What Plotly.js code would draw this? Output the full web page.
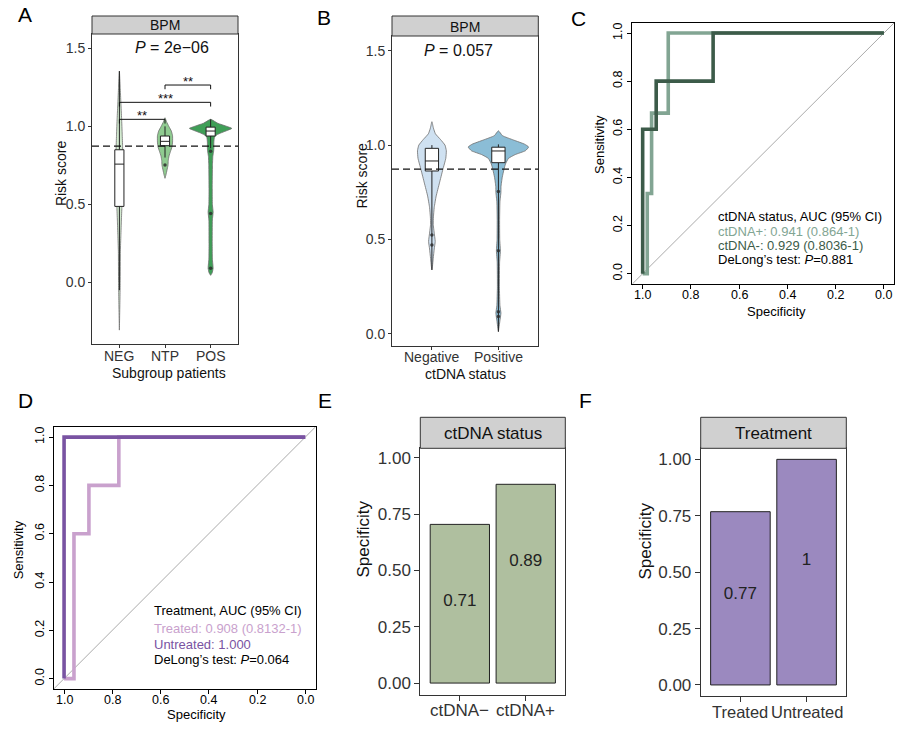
<!DOCTYPE html>
<html><head><meta charset="utf-8">
<script src="https://cdn.plot.ly/plotly-3.0.1.min.js"></script>
<style>body{margin:0;background:#fff}#chart{width:910px;height:745px}</style>
</head><body><div id="chart"></div>
<script>
// ================= DATA =================
// Panel A : risk score by subgroup (BPM)
const groupsA = ['NEG', 'NTP', 'POS'];
const violinA_NEG_y = [1.354, 1.25, 1.15, 1.05, 0.95, 0.87, 0.75, 0.60, 0.48, 0.40, 0.30, 0.20, 0.00, -0.10, -0.306];
const violinA_NEG_w = [0, 0.018, 0.033, 0.049, 0.062, 0.071, 0.077, 0.066, 0.055, 0.044, 0.033, 0.022, 0.018, 0.013, 0];
const violinA_NTP_y = [1.055, 1.03, 1.00, 0.97, 0.94, 0.90, 0.87, 0.84, 0.81, 0.78, 0.75, 0.72, 0.69, 0.667];
const violinA_NTP_w = [0, 0.033, 0.084, 0.139, 0.166, 0.166, 0.155, 0.121, 0.088, 0.071, 0.066, 0.044, 0.022, 0];
const violinA_POS_y = [1.045, 1.02, 1.00, 0.987, 0.975, 0.96, 0.945, 0.93, 0.90, 0.86, 0.84, 0.81, 0.75, 0.60, 0.50, 0.45, 0.40, 0.25, 0.15, 0.09, 0.06, 0.045];
const violinA_POS_w = [0, 0.155, 0.353, 0.464, 0.375, 0.243, 0.132, 0.084, 0.071, 0.071, 0.066, 0.049, 0.040, 0.035, 0.038, 0.055, 0.038, 0.035, 0.038, 0.055, 0.033, 0];
const boxA_q1 = [0.487, 0.876, 0.938];
const boxA_median = [0.758, 0.904, 0.970];
const boxA_q3 = [0.850, 0.938, 0.995];
const boxA_lower = [-0.05, 0.80, 0.86];
const boxA_upper = [1.354, 1.00, 1.045];
const outA_group = ['NTP', 'POS', 'POS', 'POS'];
const outA_y = [0.752, 0.84, 0.442, 0.09];
const compA = [['NEG', 'NTP', '**'], ['NEG', 'POS', '***'], ['NTP', 'POS', '**']];
const pValueA = '2e\u221206';

// Panel B : risk score by ctDNA status
const groupsB = ['Negative', 'Positive'];
const violinB_Neg_y = [1.124, 1.09, 1.06, 1.03, 1.00, 0.97, 0.93, 0.87, 0.80, 0.73, 0.67, 0.62, 0.58, 0.54, 0.49, 0.45, 0.40, 0.36, 0.339];
const violinB_Neg_w = [0, 0.023, 0.053, 0.129, 0.197, 0.217, 0.209, 0.164, 0.114, 0.064, 0.035, 0.023, 0.020, 0.033, 0.050, 0.035, 0.020, 0.009, 0];
const violinB_Pos_y = [1.076, 1.05, 1.027, 1.005, 0.99, 0.97, 0.95, 0.93, 0.90, 0.87, 0.83, 0.78, 0.75, 0.70, 0.60, 0.50, 0.44, 0.38, 0.25, 0.15, 0.11, 0.07, 0.012];
const violinB_Pos_w = [0, 0.061, 0.227, 0.394, 0.455, 0.405, 0.253, 0.152, 0.106, 0.083, 0.058, 0.039, 0.038, 0.023, 0.018, 0.020, 0.030, 0.018, 0.015, 0.023, 0.038, 0.023, 0];
const boxB_q1 = [0.863, 0.907];
const boxB_median = [0.916, 0.969];
const boxB_q3 = [0.983, 0.989];
const boxB_lower = [0.339, 0.012];
const boxB_upper = [1.0, 1.004];
const outB_group = ['Negative', 'Negative', 'Positive', 'Positive', 'Positive', 'Positive'];
const outB_y = [0.524, 0.471, 0.754, 0.441, 0.118, 0.092];
const pValueB = '0.057';
const riskCutoff = 0.873;

// Panel C : ROC by ctDNA status
const rocC_pos_spec = [1.000, 0.981, 0.981, 0.963, 0.963, 0.894, 0.894, 0.000];
const rocC_pos_sens = [0, 0, 0.333, 0.333, 0.667, 0.667, 1, 1];
const rocC_neg_spec = [1.000, 1.000, 0.944, 0.944, 0.708, 0.708, 0.000];
const rocC_neg_sens = [0, 0.6, 0.6, 0.8, 0.8, 1, 1];
const legendC = ['ctDNA status, AUC (95% CI)', 'ctDNA+: 0.941 (0.864-1)', 'ctDNA-: 0.929 (0.8036-1)', 'DeLong\u2019s test: <i>P</i>=0.881'];

// Panel D : ROC by treatment
const rocD_tr_spec = [1.000, 0.959, 0.959, 0.897, 0.897, 0.773, 0.773, 0.000];
const rocD_tr_sens = [0, 0, 0.6, 0.6, 0.8, 0.8, 1, 1];
const rocD_un_spec = [1.000, 1.000, 0.000];
const rocD_un_sens = [0, 1, 1];
const legendD = ['Treatment, AUC (95% CI)', 'Treated: 0.908 (0.8132-1)', 'Untreated: 1.000', 'DeLong\u2019s test: <i>P</i>=0.064'];

// Panel E / F : specificity bars
const catsE = ['ctDNA\u2212', 'ctDNA+'];
const specE = [0.705, 0.883];
const labelsE = ['0.71', '0.89'];
const catsF = ['Treated', 'Untreated'];
const specF = [0.768, 1.0];
const labelsF = ['0.77', '1'];
const rocTicks = [1, 0.8, 0.6, 0.4, 0.2, 0];
const barTicks = [0, 0.25, 0.5, 0.75, 1];

// ================= STYLE / LAYOUT =================
const FONT = 'Liberation Sans, Arial, Helvetica, sans-serif';
const W = 910, H = 745;
const colNEG = '#d3ebd0', colNTP = '#8fcb90', colPOS = '#3f9f57';
const colNeg = '#cfe1f1', colPos = '#8bbdd6';
const colCpos = '#82a593', colCneg = '#3c5b49';
const colDtr = '#c9a1cd', colDun = '#7953a2';
const colE = '#afbf9f', colF = '#9b89bf';

const pos = (cats) => (c) => cats.indexOf(c) + 1;

function violin(xa, ya, center, ys, ws, fill) {
  const right = ys.map((y, i) => center + ws[i]);
  const left = ys.map((y, i) => center - ws[i]).reverse();
  return {type: 'scatter', xaxis: xa, yaxis: ya, mode: 'lines', fill: 'toself', fillcolor: fill,
    x: right.concat(left), y: ys.concat(ys.slice().reverse()),
    line: {color: '#6e6e6e', width: 0.8, shape: 'spline', smoothing: 0.4}, hoverinfo: 'skip'};
}
// boxplot drawn with scatter traces so it sits above the violins
function boxes(xa, ya, q1, med, q3, lo, hi) {
  const out = [], hw = 0.1, ln = {color: '#222', width: 1};
  q1.forEach((_, i) => {
    const c = i + 1;
    out.push({type: 'scatter', mode: 'lines', xaxis: xa, yaxis: ya, x: [c, c, null, c, c], y: [q3[i], hi[i], null, q1[i], lo[i]],
      line: ln, hoverinfo: 'skip'});
    out.push({type: 'scatter', mode: 'lines', xaxis: xa, yaxis: ya, fill: 'toself', fillcolor: '#ffffff',
      x: [c - hw, c + hw, c + hw, c - hw, c - hw], y: [q1[i], q1[i], q3[i], q3[i], q1[i]], line: ln, hoverinfo: 'skip'});
    out.push({type: 'scatter', mode: 'lines', xaxis: xa, yaxis: ya, x: [c - hw, c + hw], y: [med[i], med[i]],
      line: ln, hoverinfo: 'skip'});
  });
  return out;
}
function dots(xa, ya, xs, ys) {
  return {type: 'scatter', mode: 'markers', xaxis: xa, yaxis: ya, x: xs, y: ys,
    marker: {size: 3.5, color: '#2e2e2e', opacity: 0.85}, hoverinfo: 'skip'};
}
function roc(xa, ya, sp, se, color) {
  return {type: 'scatter', mode: 'lines', xaxis: xa, yaxis: ya, x: sp, y: se,
    line: {color: color, width: 3.6}, hoverinfo: 'skip'};
}

const pA = pos(groupsA), pB = pos(groupsB), pE = pos(catsE), pF = pos(catsF);
const traces = [].concat(
  [violin('x', 'y', 1, violinA_NEG_y, violinA_NEG_w, colNEG),
   violin('x', 'y', 2, violinA_NTP_y, violinA_NTP_w, colNTP),
   violin('x', 'y', 3, violinA_POS_y, violinA_POS_w, colPOS)],
  boxes('x', 'y', boxA_q1, boxA_median, boxA_q3, boxA_lower, boxA_upper),
  [dots('x', 'y', outA_group.map(pA), outA_y),
   violin('x2', 'y2', 1, violinB_Neg_y, violinB_Neg_w, colNeg),
   violin('x2', 'y2', 2, violinB_Pos_y, violinB_Pos_w, colPos)],
  boxes('x2', 'y2', boxB_q1, boxB_median, boxB_q3, boxB_lower, boxB_upper),
  [dots('x2', 'y2', outB_group.map(pB), outB_y),
   roc('x3', 'y3', rocC_pos_spec, rocC_pos_sens, colCpos),
   roc('x3', 'y3', rocC_neg_spec, rocC_neg_sens, colCneg),
   roc('x4', 'y4', rocD_tr_spec, rocD_tr_sens, colDtr),
   roc('x4', 'y4', rocD_un_spec, rocD_un_sens, colDun),
   {type: 'bar', xaxis: 'x5', yaxis: 'y5', x: catsE.map(pE), y: specE, width: 0.9,
    marker: {color: colE, line: {color: '#222', width: 1}}, hoverinfo: 'skip'},
   {type: 'scatter', mode: 'text', xaxis: 'x5', yaxis: 'y5', x: catsE.map(pE), y: [0.36, 0.537], text: labelsE,
    textfont: {family: FONT, size: 17, color: '#222'}, hoverinfo: 'skip'},
   {type: 'bar', xaxis: 'x6', yaxis: 'y6', x: catsF.map(pF), y: specF, width: 0.9,
    marker: {color: colF, line: {color: '#222', width: 1}}, hoverinfo: 'skip'},
   {type: 'scatter', mode: 'text', xaxis: 'x6', yaxis: 'y6', x: catsF.map(pF), y: [0.40, 0.551], text: labelsF,
    textfont: {family: FONT, size: 17, color: '#222'}, hoverinfo: 'skip'}]
);

const dx = (a, b) => [a / W, b / W];
const dy = (top, bottom) => [1 - bottom / H, 1 - top / H];
function ax(extra, fontSize, col) {
  return Object.assign({showline: true, linecolor: '#333', linewidth: 1, mirror: true, ticks: 'outside',
    ticklen: 3, tickwidth: 1, tickcolor: '#333', showgrid: false, zeroline: false, fixedrange: true, tickangle: 0,
    tickfont: {family: FONT, size: fontSize, color: col || '#333'}}, extra);
}
const rocTT = rocTicks.map(v => v.toFixed(1));
const barTT = barTicks.map(v => v.toFixed(2));

const layout = {
  width: W, height: H, margin: {l: 0, r: 0, t: 0, b: 0}, showlegend: false,
  paper_bgcolor: '#fff', plot_bgcolor: '#fff', font: {family: FONT},
  xaxis: ax({domain: dx(92, 238), anchor: 'y', range: [0.4, 3.6], tickvals: [1, 2, 3], showticklabels: false}, 14),
  yaxis: ax({domain: dy(34, 344), anchor: 'x', range: [-0.395, 1.592], tickvals: [0, 0.5, 1, 1.5], ticktext: ['0.0', '0.5', '1.0', '1.5']}, 14),
  xaxis2: ax({domain: dx(392, 538.3), anchor: 'y2', range: [0.4, 2.6], tickvals: [1, 2], showticklabels: false}, 14),
  yaxis2: ax({domain: dy(36, 346), anchor: 'x2', range: [-0.064, 1.578], tickvals: [0, 0.5, 1, 1.5], ticktext: ['0.0', '0.5', '1.0', '1.5']}, 14),
  xaxis3: ax({domain: dx(632.3, 894.3), anchor: 'y3', range: [1.043, -0.043], tickvals: rocTicks, showticklabels: false, ticklen: 4, linecolor: '#000', tickcolor: '#000'}, 12.5, '#000'),
  yaxis3: ax({domain: dy(22.7, 284), anchor: 'x3', range: [-0.043, 1.043], tickvals: rocTicks, ticktext: rocTT, ticklen: 4, tickangle: -90, linecolor: '#000', tickcolor: '#000'}, 12.5, '#000'),
  xaxis4: ax({domain: dx(53.7, 315.7), anchor: 'y4', range: [1.043, -0.043], tickvals: rocTicks, showticklabels: false, ticklen: 4, linecolor: '#000', tickcolor: '#000'}, 12.5, '#000'),
  yaxis4: ax({domain: dy(426.7, 689), anchor: 'x4', range: [-0.043, 1.043], tickvals: rocTicks, ticktext: rocTT, ticklen: 4, tickangle: -90, linecolor: '#000', tickcolor: '#000'}, 12.5, '#000'),
  xaxis5: ax({domain: dx(420.3, 565.3), anchor: 'y5', range: [0.4, 2.6], tickvals: [1, 2], showticklabels: false, ticklen: 5}, 17),
  yaxis5: ax({domain: dy(448.3, 695), anchor: 'x5', range: [-0.053, 1.043], tickvals: barTicks, ticktext: barTT, ticklen: 5}, 17),
  xaxis6: ax({domain: dx(700.7, 846.3), anchor: 'y6', range: [0.4, 2.6], tickvals: [1, 2], showticklabels: false, ticklen: 5}, 16.5),
  yaxis6: ax({domain: dy(448.3, 696), anchor: 'x6', range: [-0.049, 1.049], tickvals: barTicks, ticktext: barTT, ticklen: 5}, 17),
  shapes: [], annotations: []
};

// strips
function strip(x0, x1, y0, y1) {
  layout.shapes.push({type: 'rect', xref: 'paper', yref: 'paper', x0: x0 / W, x1: x1 / W, y0: 1 - y1 / H, y1: 1 - y0 / H,
    fillcolor: '#d0d0d0', line: {color: '#333', width: 1}, layer: 'above'});
}
strip(92, 238, 16, 34);
strip(392, 538.3, 16, 36);
strip(420.3, 565.3, 417.3, 448.3);
strip(700.7, 846.3, 417.3, 448.3);

// cutoff lines
['', '2'].forEach(k => layout.shapes.push({type: 'line', xref: 'x' + k + ' domain', yref: 'y' + k, x0: 0, x1: 1,
  y0: riskCutoff, y1: riskCutoff, line: {color: '#111', width: 1.2, dash: '7px,4px'}, layer: 'above'}));

// significance brackets (panel A)
const bracketY = [1.045, 1.154, 1.265];
compA.forEach((c, i) => {
  const a = pA(c[0]), b = pA(c[1]), y = bracketY[i], t = 0.027;
  layout.shapes.push({type: 'path', xref: 'x', yref: 'y', path: `M ${a},${y - t} L ${a},${y} L ${b},${y} L ${b},${y - t}`,
    line: {color: '#111', width: 1}, layer: 'above'});
  layout.annotations.push({xref: 'x', yref: 'y', x: (a + b) / 2, y: y + 0.022, text: c[2], showarrow: false,
    xanchor: 'center', yanchor: 'middle', font: {family: FONT, size: 13, color: '#111'}});
});

// diagonal reference lines on ROC plots
['3', '4'].forEach(k => layout.shapes.push({type: 'line', xref: 'x' + k, yref: 'y' + k, x0: 1.043, y0: -0.043, x1: -0.043, y1: 1.043,
  line: {color: '#aaaaaa', width: 1}, layer: 'below'}));

// x tick labels placed tight under the axes
function xTickLabels(xa, vals, texts, yp, size, color) {
  vals.forEach((v, i) => layout.annotations.push({xref: xa, yref: 'paper', x: v, y: 1 - yp / H, text: texts[i],
    showarrow: false, xanchor: 'center', yanchor: 'middle', font: {family: FONT, size: size, color: color}}));
}
xTickLabels('x', groupsA.map(pA), groupsA, 355.5, 14, '#333');
xTickLabels('x2', groupsB.map(pB), groupsB, 357, 14, '#333');
xTickLabels('x3', rocTicks, rocTT, 295, 12.5, '#000');
xTickLabels('x4', rocTicks, rocTT, 700, 12.5, '#000');
xTickLabels('x5', catsE.map(pE), catsE, 710, 17, '#333');
xTickLabels('x6', catsF.map(pF), catsF, 711.5, 16.5, '#333');

function ann(text, x, y, o) {
  const base = {text: text, x: x / W, y: 1 - y / H, xref: 'paper', yref: 'paper', showarrow: false,
    xanchor: 'center', yanchor: 'middle', font: {family: FONT, size: 14, color: '#111'}};
  if (o && o.font) o.font = Object.assign({}, base.font, o.font);
  layout.annotations.push(Object.assign(base, o || {}));
}
// panel letters
[['A', 25, 15], ['B', 324, 17], ['C', 578, 19], ['D', 25, 400], ['E', 325, 400], ['F', 585, 400]]
  .forEach(l => ann(l[0], l[1], l[2], {font: {size: 21, color: '#000'}}));
// strip texts
ann('BPM', 165, 25);
ann('BPM', 465.2, 26.5);
ann('ctDNA status', 492.8, 433, {font: {size: 17}});
ann('Treatment', 773.5, 433, {font: {size: 17}});
// p-values
ann('<i>P</i> = ' + pValueA, 172.3, 47.7, {font: {size: 16}});
ann('<i>P</i> = ' + pValueB, 458.3, 50.7, {font: {size: 16}});
// axis titles
ann('Risk score', 60.8, 173.3, {textangle: -90});
ann('Subgroup patients', 169, 372.5);
ann('Risk score', 361.7, 175.8, {textangle: -90});
ann('ctDNA status', 466, 374.5);
ann('Sensitivity', 599, 145, {textangle: -90, font: {size: 13, color: '#000'}});
ann('Specificity', 776, 311.5, {font: {size: 13, color: '#000'}});
ann('Sensitivity', 18.3, 550, {textangle: -90, font: {size: 13, color: '#000'}});
ann('Specificity', 196.7, 714, {font: {size: 13, color: '#000'}});
ann('Specificity', 363.3, 539.2, {textangle: -90, font: {size: 17}});
ann('Specificity', 645.7, 540.8, {textangle: -90, font: {size: 17}});
// ROC legends
const legCcols = ['#000', colCpos, colCneg, '#000'];
const legCy = [216.7, 232, 245.7, 259.3];
legendC.forEach((t, i) => ann(t, 715.7, legCy[i], {xanchor: 'left', font: {size: 13, color: legCcols[i]}}));
const legDcols = ['#000', colDtr, colDun, '#000'];
const legDy = [610.5, 628, 644.5, 659.5];
legendD.forEach((t, i) => ann(t, 151.7, legDy[i], {xanchor: 'left', font: {size: 13, color: legDcols[i]}}));

Plotly.newPlot('chart', traces, layout, {staticPlot: true, displayModeBar: false});
</script>
</body></html>
